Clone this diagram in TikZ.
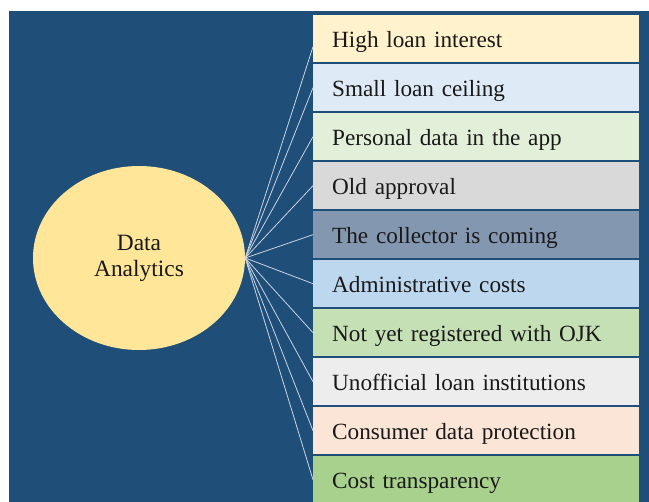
\documentclass[tikz,border=0pt]{standalone}
\usepackage{fontspec}
\setmainfont{Liberation Serif}
\usetikzlibrary{shapes.geometric}
\definecolor{bgblue}{HTML}{1F4E79}
\definecolor{cA}{HTML}{FFF2CC}
\definecolor{cB}{HTML}{DEEBF7}
\definecolor{cC}{HTML}{E2F0D9}
\definecolor{cD}{HTML}{D9D9D9}
\definecolor{cE}{HTML}{8497B0}
\definecolor{cF}{HTML}{BDD7EE}
\definecolor{cG}{HTML}{C5E0B4}
\definecolor{cH}{HTML}{EDEDED}
\definecolor{cI}{HTML}{FBE5D6}
\definecolor{cJ}{HTML}{A9D18E}
\definecolor{ellfill}{HTML}{FFE699}
\definecolor{linkc}{HTML}{C9D4E4}
\tikzset{
  itembox/.style={anchor=north west, minimum height=47bp, text width=288bp,
    inner xsep=19bp, inner ysep=0pt, align=left, text=black!90,
    text height=17.6bp, text depth=0pt,
    font=\fontsize{23.3}{27}\selectfont},
  hub/.style={ellipse, fill=ellfill, minimum width=212bp, minimum height=184bp,
    inner sep=0pt, align=center, text=black!90, font=\fontsize{23.5}{26}\selectfont},
  link/.style={draw=linkc, line width=0.8bp}
}
\begin{document}
\begin{tikzpicture}[x=1bp,y=-1bp]
\useasboundingbox (0,0) rectangle (649,502);
\fill[white] (0,0) rectangle (649,502);
\fill[bgblue] (9,11) rectangle (649,502);
\node[hub] (hub) at (139,258) {Data\\Analytics};
\node[itembox, fill=cA] (b1) at (313,15) {High loan interest};
\node[itembox, fill=cB] (b2) at (313,64) {Small loan ceiling};
\node[itembox, fill=cC] (b3) at (313,113) {Personal data in the app};
\node[itembox, fill=cD] (b4) at (313,162) {Old approval};
\node[itembox, fill=cE] (b5) at (313,211) {The collector is coming};
\node[itembox, fill=cF] (b6) at (313,260) {Administrative costs};
\node[itembox, fill=cG] (b7) at (313,309) {Not yet registered with OJK};
\node[itembox, fill=cH] (b8) at (313,358) {Unofficial loan institutions};
\node[itembox, fill=cI] (b9) at (313,407) {Consumer data protection};
\node[itembox, fill=cJ] (b10) at (313,456) {Cost transparency};
\draw[link] (hub.east) -- ([yshift=-8bp]b1.west);
\foreach \i in {2,...,10} {
  \draw[link] (hub.east) -- (b\i.west);
}
\end{tikzpicture}
\end{document}
